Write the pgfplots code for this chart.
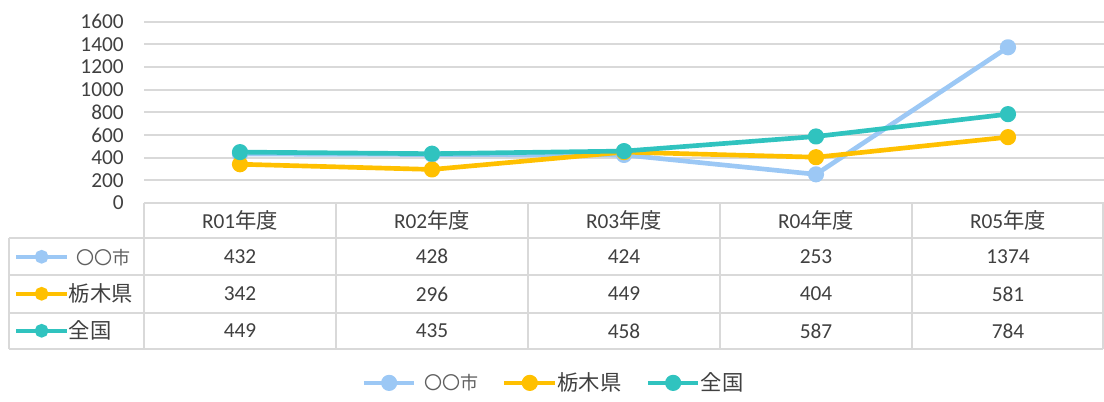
\documentclass[border=0pt]{standalone}
\usepackage{fontspec}
\usepackage{pgfplots}
\pgfplotsset{compat=1.18}
\setmainfont{Carlito}
\newfontfamily\jp{Noto Sans CJK JP}
\definecolor{cblue}{HTML}{9CC8F5}
\definecolor{cyel}{HTML}{FFC000}
\definecolor{cteal}{HTML}{30C3BF}
\definecolor{gridc}{HTML}{D9D9D9}
\definecolor{txt}{HTML}{404040}
\definecolor{txtl}{HTML}{606060}
\newcommand{\fs}{\fontsize{16}{19}\selectfont}
\newcommand{\oo}{{\jp\fontsize{13.5}{16}\selectfont\color{txtl}〇〇市}}
\begin{document}
\begin{tikzpicture}
\useasboundingbox (0pt,0pt) rectangle (828pt,-301.5pt);
\begin{axis}[at={(108pt,-152.25pt)}, anchor=south west, scale only axis,
  width=720pt, height=136pt,
  xmin=-0.5, xmax=4.5, ymin=0, ymax=1600,
  ytick={0,200,...,1600}, xtick=\empty,
  axis line style={draw=none},
  ymajorgrids, grid style={gridc, line width=1.3pt},
  major tick length=0pt,
  /pgf/number format/assume math mode=true,
  /pgf/number format/1000 sep={},
  yticklabel style={font=\fs, text=txt, anchor=east, inner sep=0pt, xshift=-15pt},
  legend image code/.code={\draw[mark repeat=2,mark phase=2,#1] plot coordinates {(0pt,0pt) (19pt,0pt) (38pt,0pt)};},
  legend style={at={(0.4255,-0.992)}, anchor=center, draw=none, fill=none, inner sep=0pt,
    legend columns=3, font=\fs, text=txt,
    nodes={inner sep=0pt},
    /tikz/every even column/.append style={column sep=18pt}},
  line join=round]
\addplot[cblue, line width=3.5pt, mark=*, mark size=4.3pt, mark options={solid}] coordinates {(0,432)(1,428)(2,424)(3,253)(4,1374)};
\addlegendentry{\hspace{5.5pt}\oo}
\addplot[cyel, line width=3.5pt, mark=*, mark size=4.3pt, mark options={solid}] coordinates {(0,342)(1,296)(2,449)(3,404)(4,581)};
\addlegendentry{{\jp 栃木県}}
\addplot[cteal, line width=3.5pt, mark=*, mark size=4.3pt, mark options={solid}] coordinates {(0,449)(1,435)(2,458)(3,587)(4,784)};
\addlegendentry{{\jp 全国}}
\end{axis}
\begin{axis}[at={(108pt,-152.25pt)}, anchor=south west, scale only axis,
  width=720pt, height=136pt, hide axis,
  xmin=-0.5, xmax=4.5, ymin=0, ymax=1600,
  legend image code/.code={\draw[mark repeat=2,mark phase=2,#1] plot coordinates {(0pt,0pt) (19pt,0pt) (38pt,0pt)};},
  legend style={at={(-0.1354,-0.193)}, anchor=north west, draw=none, fill=none, inner sep=0pt,
    font=\fs, text=txt, legend cell align=left,
    nodes={inner sep=0pt, text height=19.5pt, text depth=8.25pt}}]
\addlegendimage{cblue, line width=3pt, mark=*, mark size=3.6pt, mark options={solid}}
\addlegendentry{\hspace{6pt}\oo}
\addlegendimage{cyel, line width=3pt, mark=*, mark size=3.6pt, mark options={solid}}
\addlegendentry{{\jp 栃木県}}
\addlegendimage{cteal, line width=3pt, mark=*, mark size=3.6pt, mark options={solid}}
\addlegendentry{{\jp 全国}}
\end{axis}
\begin{scope}[x=0.75pt, y=0.75pt]
\begin{scope}[gridc, line width=1.5pt]
\draw (9,-238) -- (1103,-238);
\draw (9,-275) -- (1103,-275);
\draw (9,-313) -- (1103,-313);
\draw (9,-349) -- (1103,-349);
\draw (9,-238) -- (9,-349);
\foreach \x in {144,336,528,720,912,1103} {\draw (\x,-203) -- (\x,-349);}
\end{scope}
\begin{scope}[every node/.style={font=\fs, text=txt, inner sep=0pt}]
\node at (240,-220.5) {R01{\jp 年度}};
\node at (432,-220.5) {R02{\jp 年度}};
\node at (624,-220.5) {R03{\jp 年度}};
\node at (816,-220.5) {R04{\jp 年度}};
\node at (1008,-220.5) {R05{\jp 年度}};
\node at (240,-256.5) {432};
\node at (432,-256.5) {428};
\node at (624,-256.5) {424};
\node at (816,-256.5) {253};
\node at (1008,-256.5) {1374};
\node at (240,-294) {342};
\node at (432,-294) {296};
\node at (624,-294) {449};
\node at (816,-294) {404};
\node at (1008,-294) {581};
\node at (240,-331) {449};
\node at (432,-331) {435};
\node at (624,-331) {458};
\node at (816,-331) {587};
\node at (1008,-331) {784};
\end{scope}
\end{scope}
\end{tikzpicture}
\end{document}
